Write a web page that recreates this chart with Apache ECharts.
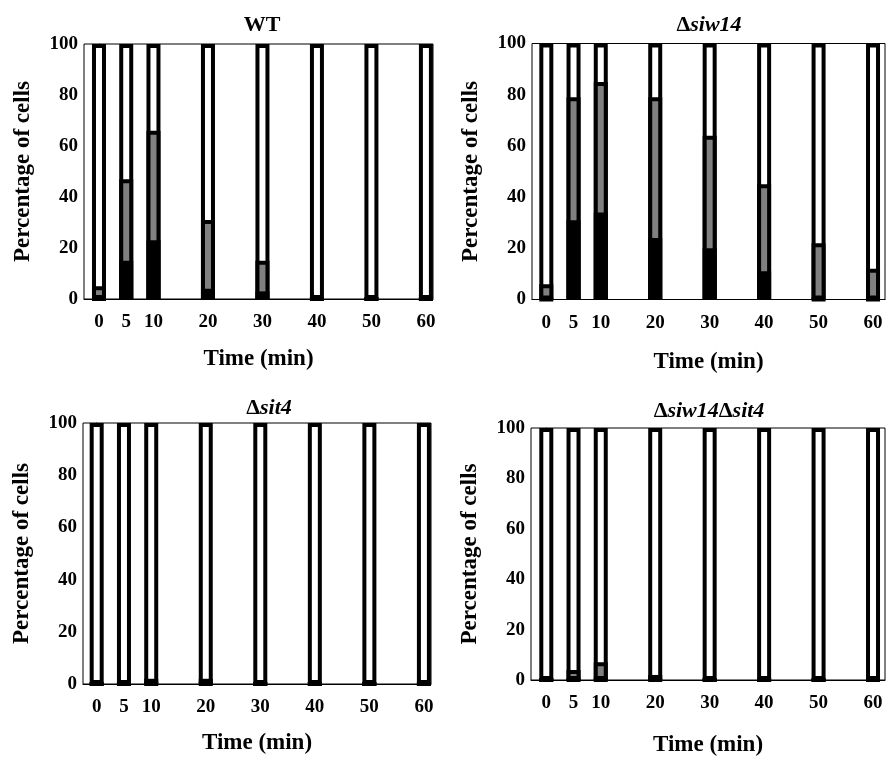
<!DOCTYPE html>
<html>
<head>
<meta charset="utf-8" />
<title>Percentage of cells</title>
<script src="https://cdn.jsdelivr.net/npm/echarts@6/dist/echarts.min.js"></script>
<style>
	html, body { margin: 0; padding: 0; background: #fff; }
	#main { width: 886px; height: 758px; }
</style>
</head>
<body>
<div id="main"></div>
<script>
	// time points (min)
	var times = [0, 5, 10, 20, 30, 40, 50, 60];

	// black = bottom part, gray = middle part, white = the rest up to 100
	var wtBlack = [0, 15, 23, 4, 3, 0, 0, 0];
	var wtGray = [5, 32, 43, 27, 12, 0, 0, 0];
	var siw14Black = [0, 31, 34, 24, 20, 11, 0, 0];
	var siw14Gray = [6, 48, 51, 55, 44, 34, 22, 12];
	var sit4Black = [0, 0, 0, 0, 0, 0, 0, 0];
	var sit4Gray = [0, 0, 2, 2, 0, 0, 0, 0];
	var dblBlack = [0, 0, 0, 0, 0, 0, 0, 0];
	var dblGray = [0, 4, 7, 2, 0, 0, 0, 1];

	var FONT = '"Liberation Serif", "Times New Roman", serif';

	var panels = [
		{ black: wtBlack, gray: wtGray, grid: { left: 84, top: 44, width: 349, height: 255 }, xmin: -2.75, xmax: 61.3, title: 'WT', tx: 262, ty: 14, nameGap: 49 },
		{ black: siw14Black, gray: siw14Gray, grid: { left: 532, top: 43.5, width: 353, height: 256 }, xmin: -2.63, xmax: 62.2, title: '{d|Δ}{i|siw14}', tx: 709, ty: 14, nameGap: 51 },
		{ black: sit4Black, gray: sit4Gray, grid: { left: 83, top: 423, width: 348, height: 261 }, xmin: -2.51, xmax: 61.3, title: '{d|Δ}{i|sit4}', tx: 269, ty: 397, nameGap: 48 },
		{ black: dblBlack, gray: dblGray, grid: { left: 531, top: 428, width: 354, height: 255 }, xmin: -2.81, xmax: 62.2, title: '{d|Δ}{i|siw14}{d|Δ}{i|sit4}', tx: 709, ty: 400, nameGap: 54 }
	];

	var grids = [], xAxes = [], yAxes = [], series = [], titles = [];

	panels.forEach(function(p, i) {
		var g = p.grid;
		g.show = true;
		g.borderColor = '#000';
		g.borderWidth = 1;
		g.backgroundColor = '#fff';
		grids.push(g);

		titles.push({
			text: p.title,
			left: p.tx,
			top: p.ty,
			textAlign: 'center',
			padding: 0,
			textStyle: {
				fontFamily: FONT,
				fontSize: 22,
				fontWeight: 'bold',
				color: '#000',
				rich: {
					d: { fontFamily: FONT, fontSize: 22, fontWeight: 'bold', color: '#000' },
					i: { fontFamily: FONT, fontSize: 22, fontWeight: 'bold', fontStyle: 'italic', color: '#000' }
				}
			}
		});

		xAxes.push({
			gridIndex: i,
			type: 'value',
			min: p.xmin,
			max: p.xmax,
			name: 'Time (min)',
			nameLocation: 'middle',
			nameGap: p.nameGap,
			nameTextStyle: { fontFamily: FONT, fontSize: 23, fontWeight: 'bold', color: '#000' },
			axisLine: { show: true, lineStyle: { color: '#000', width: 1 } },
			axisTick: { show: false },
			splitLine: { show: false },
			axisLabel: {
				customValues: times,
				margin: 14,
				fontFamily: FONT,
				fontSize: 19,
				fontWeight: 'bold',
				color: '#000'
			}
		});

		yAxes.push({
			gridIndex: i,
			type: 'value',
			min: 0,
			max: 100,
			interval: 20,
			name: 'Percentage of cells',
			nameLocation: 'middle',
			nameGap: 49,
			nameTextStyle: { fontFamily: FONT, fontSize: 23, fontWeight: 'bold', color: '#000' },
			axisLine: { show: true, lineStyle: { color: '#000', width: 1 } },
			axisTick: { show: true, inside: true, length: 4, lineStyle: { color: '#000' } },
			splitLine: { show: false },
			axisLabel: {
				margin: 6,
				fontFamily: FONT,
				fontSize: 19,
				fontWeight: 'bold',
				color: '#000'
			}
		});

		// overlapped bars: full (white), black+gray (gray), black on top
		var full = times.map(function() { return 100; });
		var upToGray = times.map(function(t, k) { return p.black[k] + p.gray[k]; });
		var parts = [
			{ vals: full, color: '#fff', z: 2 },
			{ vals: upToGray, color: '#808080', z: 3 },
			{ vals: p.black, color: '#000', z: 4 }
		];
		parts.forEach(function(part) {
			series.push({
				type: 'bar',
				xAxisIndex: i,
				yAxisIndex: i,
				barWidth: 14,
				barGap: '-100%',
				z: part.z,
				silent: true,
				animation: false,
				itemStyle: { color: part.color, borderColor: '#000', borderWidth: 4 },
				data: times.map(function(t, k) { return [t, part.vals[k]]; })
			});
		});
	});

	var myChart = echarts.init(document.getElementById('main'));
	myChart.setOption({
		animation: false,
		title: titles,
		grid: grids,
		xAxis: xAxes,
		yAxis: yAxes,
		series: series
	});

	window.onresize = function() {
		myChart.resize();
	};
</script>
</body>
</html>
